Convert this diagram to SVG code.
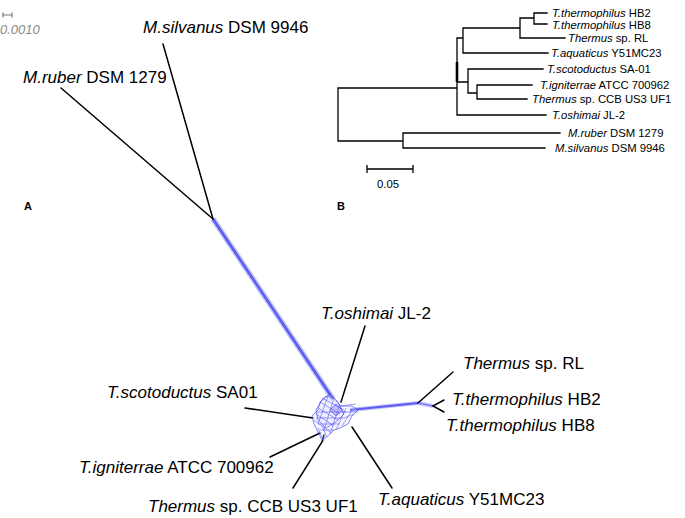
<svg xmlns="http://www.w3.org/2000/svg" width="685" height="518" viewBox="0 0 685 518">
<style>
.lbl{font-family:"Liberation Sans",Arial,sans-serif;font-size:17px;fill:#000}
.sm{font-family:"Liberation Sans",Arial,sans-serif;font-size:11.3px;fill:#000}
.it{font-style:italic}
.bold{font-family:"Liberation Sans",Arial,sans-serif;font-size:11px;font-weight:bold;fill:#000}
.edge{stroke:#000;stroke-width:1.5;fill:none;stroke-linecap:round}
.tree{stroke:#000;stroke-width:1.3;fill:none;stroke-linecap:square}
.net{stroke:#3b3bef;stroke-width:0.6;fill:#d8d8ff;fill-opacity:0.25}
.mesh{stroke:#4444f0;stroke-width:0.5;fill:none}
</style>
<rect width="685" height="518" fill="#fff"/>
<g id="scale-a">
<path d="M3,15 H12 M3,12.5 V17.5 M12,12.5 V17.5" stroke="#777" stroke-width="1.2" fill="none"/>
<text x="0" y="34" font-family="Liberation Sans, Arial, sans-serif" font-size="13" font-style="italic" fill="#888">0.0010</text>
</g>
<text class="bold" x="24" y="210">A</text>
<text class="bold" x="337" y="210">B</text>
<g id="connectors">
<path d="M213,219 L333,399" stroke="#c0c0ff" stroke-width="5.5" fill="none"/>
<path d="M213,219 L333,399" stroke="#5c5cf0" stroke-width="2.6" fill="none"/>
<path d="M350,410 L418,403 L433,406" stroke="#c0c0ff" stroke-width="4" fill="none"/>
<path d="M350,410 L418,403" stroke="#5c5cf0" stroke-width="1.8" fill="none"/>
<path d="M418,403 L433,406" stroke="#6a6af0" stroke-width="1.2" fill="none"/>
<path class="edge" d="M61,88 L213,219"/>
<path class="edge" d="M163,44 L213,219"/>
<path class="edge" d="M365,326 L341,402"/>
<path class="edge" d="M418,403 L453,372"/>
<path class="edge" d="M444,400 L433,406 L444,412"/>
<path class="edge" d="M352,427 L392,488"/>
<path class="edge" d="M245,408 L313,418"/>
<path class="edge" d="M270,457 L320,433"/>
<path class="edge" d="M293,488 L322,442 L324,435"/>
</g>
<g id="network">
<path class="net" d="M326,396 L334,398 L340,406 L352,406 L358,410 L352,416 L348,424 L340,428 L334,430 L328,436 L322,440 L318,432 L314,424 L312,416 L318,410 L320,402 Z"/>
<path class="net" d="M322,400 L330,394 L338,402 L344,414 L336,422 L326,428 L318,420 L316,410 Z"/>
<path class="mesh" d="M320,402 L340,414 M322,398 L344,410 M318,408 L338,420 M316,414 L334,426 M314,420 L330,432
M328,396 L318,424 M334,398 L324,430 M340,404 L330,434 M346,408 L336,430 M352,410 L342,426
M316,412 H346 M316,418 H344 M318,424 H340 M320,430 H334
M340,406 L356,404 M342,412 L358,412 M344,418 L354,414
M318,428 L324,442 M322,426 L327,437"/>
<path d="M336,404 L342,410 L336,416 L330,410 Z" fill="#6c6cf4" fill-opacity="0.35" stroke="#3b3bef" stroke-width="0.6"/>
</g>
<g id="n-mruber"><text class="lbl" x="23" y="83"><tspan class="it">M.ruber</tspan> DSM 1279</text></g>
<g id="n-msilvanus"><text class="lbl" x="143" y="33"><tspan class="it">M.silvanus</tspan> DSM 9946</text></g>
<g id="n-toshimai"><text class="lbl" x="321" y="319"><tspan class="it">T.oshimai</tspan> JL-2</text></g>
<g id="n-rl"><text class="lbl" x="463" y="369"><tspan class="it">Thermus</tspan> sp. RL</text></g>
<g id="n-hb2"><text class="lbl" x="452" y="405"><tspan class="it">T.thermophilus</tspan> HB2</text></g>
<g id="n-hb8"><text class="lbl" x="446" y="431"><tspan class="it">T.thermophilus</tspan> HB8</text></g>
<g id="n-aquaticus"><text class="lbl" x="378" y="505"><tspan class="it">T.aquaticus</tspan> Y51MC23</text></g>
<g id="n-scoto"><text class="lbl" x="107" y="398"><tspan class="it">T.scotoductus</tspan> SA01</text></g>
<g id="n-ignit"><text class="lbl" x="79" y="473"><tspan class="it">T.igniterrae</tspan> ATCC 700962</text></g>
<g id="n-ccb"><text class="lbl" x="148" y="512"><tspan class="it">Thermus</tspan> sp. CCB US3 UF1</text></g>
<g id="tree-b">
<path class="tree" d="M338,88 H457 M338,88 V141 H403 M403,133 V148 M403,133 H560 M403,148 H545
M457,38 V115 M457,38 H463 M463,28 V53 M463,28 H520 M520,18 V38 M520,18 H534 M534,13 V24 M534,13 H547 M534,24 H547 M520,38 H565 M463,53 H548
M457,82 H468 M468,69 V93 M468,69 H543 M468,93 H477 M477,85 V99 M477,85 H532 M477,99 H527 M457,115 H546"/>
<path d="M457,62 V82" stroke="#000" stroke-width="2.6"/>
<text class="sm" x="552" y="17"><tspan class="it">T.thermophilus</tspan> HB2</text>
<text class="sm" x="552" y="28.5"><tspan class="it">T.thermophilus</tspan> HB8</text>
<text class="sm" x="568" y="42"><tspan class="it">Thermus</tspan> sp. RL</text>
<text class="sm" x="551" y="57"><tspan class="it">T.aquaticus</tspan> Y51MC23</text>
<text class="sm" x="547" y="73"><tspan class="it">T.scotoductus</tspan>  SA-01</text>
<text class="sm" x="540" y="89"><tspan class="it">T.igniterrae</tspan> ATCC 700962</text>
<text class="sm" x="532" y="103"><tspan class="it">Thermus</tspan> sp. CCB US3 UF1</text>
<text class="sm" x="552" y="119"><tspan class="it">T.oshimai</tspan> JL-2</text>
<text class="sm" x="568" y="137"><tspan class="it">M.ruber</tspan> DSM 1279</text>
<text class="sm" x="555" y="152"><tspan class="it">M.silvanus</tspan> DSM 9946</text>
<path d="M367,169 H413 M367,165 V173 M413,165 V173" stroke="#000" stroke-width="1.3" fill="none"/>
<text class="sm" x="377" y="188">0.05</text>
</g>
</svg>
